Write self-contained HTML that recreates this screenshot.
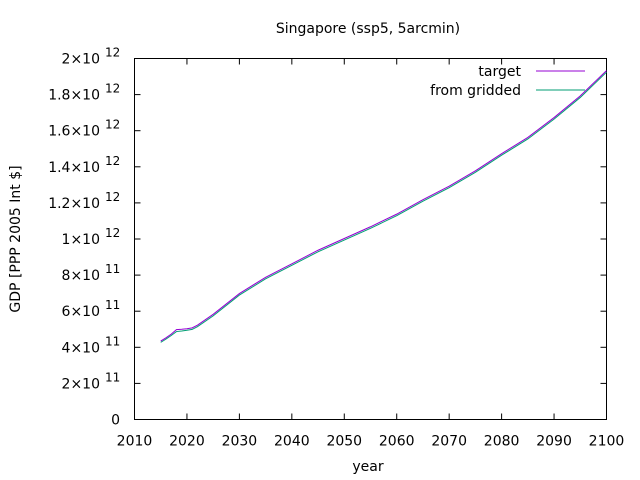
<!DOCTYPE html>
<html><head><meta charset="utf-8"><style>
body{margin:0;background:#fff;}
svg{display:block;font-family:"DejaVu Sans","Liberation Sans",sans-serif;}
</style></head><body>
<svg id="chart" width="640" height="480">
<text x="368" y="33" font-size="14" text-anchor="middle">Singapore (ssp5, 5arcmin)</text>
<text x="368" y="471" font-size="14" text-anchor="middle">year</text>
<text transform="translate(20,239) rotate(-90)" font-size="14" text-anchor="middle">GDP [PPP 2005 Int $]</text>
<g id="axes"></g>
<g id="series"></g>
<g id="legend">
<text x="521" y="76" font-size="14" text-anchor="end">target</text>
<line x1="536" y1="71" x2="585" y2="71" stroke="#9400d3" stroke-width="1"/>
<text x="521" y="95" font-size="14" text-anchor="end">from gridded</text>
<line x1="536" y1="90" x2="585" y2="90" stroke="#009e73" stroke-width="1"/>
</g>
</svg>
<script>
const years=[2015,2016,2017,2018,2019,2020,2021,2022,2025,2030,2035,2040,2045,2050,2055,2060,2065,2070,2075,2080,2085,2090,2095,2100];
const targetVals=[4.32e11,4.5e11,4.7e11,4.95e11,4.97e11,5.0e11,5.05e11,5.2e11,5.8e11,6.95e11,7.85e11,8.6e11,9.35e11,1.0e12,1.065e12,1.135e12,1.215e12,1.29e12,1.375e12,1.47e12,1.56e12,1.67e12,1.79e12,1.93e12];
const griddedVals=[4.3e11,4.48e11,4.68e11,4.9e11,4.93e11,4.97e11,5.02e11,5.17e11,5.77e11,6.92e11,7.82e11,8.57e11,9.32e11,0.997e12,1.062e12,1.132e12,1.212e12,1.287e12,1.372e12,1.467e12,1.557e12,1.667e12,1.787e12,1.927e12];
const xTicks=[2010,2020,2030,2040,2050,2060,2070,2080,2090,2100];
const yTickVals=[0,2e11,4e11,6e11,8e11,1e12,1.2e12,1.4e12,1.6e12,1.8e12,2e12];
const yTickMant=["0","2","4","6","8","1","1.2","1.4","1.6","1.8","2"];
const yTickExp=["","11","11","11","11","12","12","12","12","12","12"];
const L=134.5,R=606.5,T=58.5,B=419.5;
const xs=v=>L+(v-2010)/90*(R-L);
const ys=v=>B-v/2e12*(B-T);
const NS="http://www.w3.org/2000/svg";
const ax=document.getElementById('axes');
function mk(t,a,p){const e=document.createElementNS(NS,t);for(const k in a)e.setAttribute(k,a[k]);p.appendChild(e);return e;}
const fr=mk('rect',{x:L,y:T,width:R-L,height:B-T,fill:'none',stroke:'#000','stroke-width':1},ax);


xTicks.forEach(v=>{const x=xs(v);
 mk('line',{x1:x,y1:B,x2:x,y2:B-6,stroke:'#000'},ax);
 mk('line',{x1:x,y1:T,x2:x,y2:T+6,stroke:'#000'},ax);
 const t=mk('text',{x:x,y:B+26,'font-size':14,'text-anchor':'middle'},ax);t.textContent=v;
 
 
});
yTickVals.forEach((v,i)=>{const y=ys(v);
 mk('line',{x1:L,y1:y,x2:L+6,y2:y,stroke:'#000'},ax);
 mk('line',{x1:R,y1:y,x2:R-6,y2:y,stroke:'#000'},ax);
 const t=mk('text',{x:yTickExp[i]?100:120,y:y+5,'font-size':14,'text-anchor':'end'},ax);
 
 
 if(yTickExp[i]){t.textContent=yTickMant[i]+'×10';
  const e=mk('text',{x:105,y:y-2,'font-size':12},ax);e.textContent=yTickExp[i];
  
  
 } else t.textContent=yTickMant[i];
});
const sg=document.getElementById('series');
function line(vals,color,name,dy){
 const p=mk('polyline',{points:years.map((y,i)=>xs(y)+','+(ys(vals[i])+dy)).join(' '),fill:'none',stroke:color,'stroke-width':1},sg);
 
 
}
line(griddedVals,'#009e73','series-from-gridded',0.5);
line(targetVals,'#9400d3','series-target',-0.5);
</script>
</body></html>
